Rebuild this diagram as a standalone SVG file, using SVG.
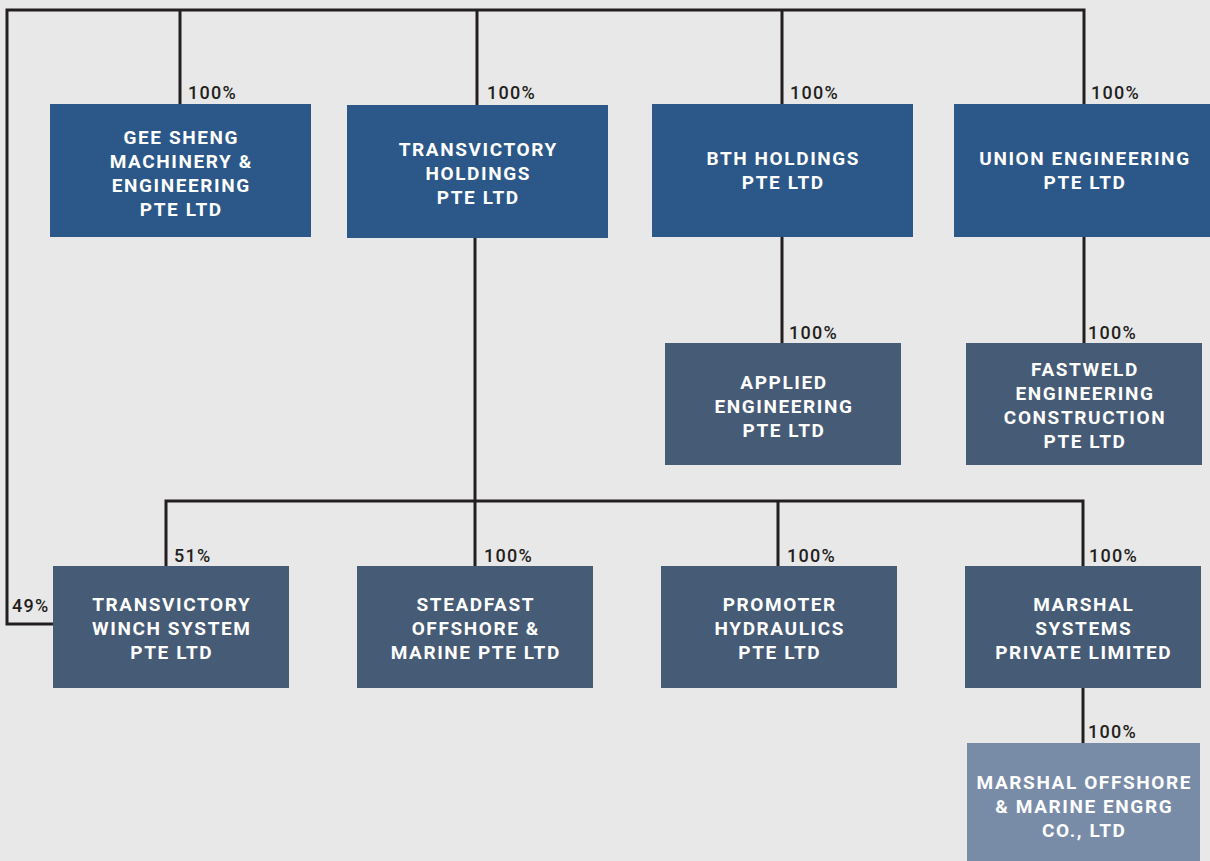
<svg xmlns="http://www.w3.org/2000/svg" width="1210" height="861" viewBox="0 0 1210 861">
<style>
.l{fill:none;stroke:#231f20;stroke-width:3;stroke-linecap:square}
.b1{fill:#2b5888}
.b2{fill:#465b75}
.b3{fill:#788ca8}
.t{font-family:Roboto,"Liberation Sans",sans-serif;font-weight:bold;font-size:19px;fill:#fff;text-anchor:middle;letter-spacing:1.6px}
.p{font-family:Roboto,"Liberation Sans",sans-serif;font-weight:500;font-size:18px;fill:#231f20;letter-spacing:1.3px}
</style>
<rect width="1210" height="861" fill="#e8e8e8"/>
<g id="connectors">
<path class="l" d="M7,10 H1084 M7,10 V624 H53 M180,10 V104 M477,10 V105 M782,10 V104 M1084,10 V104 M475,238 V501 M782,237 V343 M1084,237 V343 M166,566 V501 H1083 V566 M475,501 V566 M778,501 V566 M1083,688 V743"/>
<text class="p" x="188" y="99">100%</text>
<text class="p" x="487" y="99">100%</text>
<text class="p" x="790" y="99">100%</text>
<text class="p" x="1091" y="99">100%</text>
<text class="p" x="789" y="339">100%</text>
<text class="p" x="1088" y="339">100%</text>
<text class="p" x="174" y="562">51%</text>
<text class="p" x="484" y="562">100%</text>
<text class="p" x="787" y="562">100%</text>
<text class="p" x="1089" y="562">100%</text>
<text class="p" x="12" y="612">49%</text>
<text class="p" x="1088" y="738">100%</text>
</g>
<g id="geesheng"><rect class="b1" x="50" y="104" width="261" height="133"/>
<text class="t" x="181.3" y="144">GEE SHENG</text><text class="t" x="181.3" y="168">MACHINERY &amp;</text><text class="t" x="181.3" y="192">ENGINEERING</text><text class="t" x="181.3" y="216">PTE LTD</text></g>
<g id="transvictory"><rect class="b1" x="347" y="105" width="261" height="133"/>
<text class="t" x="478.3" y="156">TRANSVICTORY</text><text class="t" x="478.3" y="180">HOLDINGS</text><text class="t" x="478.3" y="204">PTE LTD</text></g>
<g id="bth"><rect class="b1" x="652" y="104" width="261" height="133"/>
<text class="t" x="783.3" y="165">BTH HOLDINGS</text><text class="t" x="783.3" y="189">PTE LTD</text></g>
<g id="union"><rect class="b1" x="954" y="104" width="256" height="133"/>
<text class="t" x="1085" y="165">UNION ENGINEERING</text><text class="t" x="1085" y="189">PTE LTD</text></g>
<g id="applied"><rect class="b2" x="665" y="343" width="236" height="122"/>
<text class="t" x="784" y="389">APPLIED</text><text class="t" x="784" y="413">ENGINEERING</text><text class="t" x="784" y="437">PTE LTD</text></g>
<g id="fastweld"><rect class="b2" x="966" y="343" width="236" height="122"/>
<text class="t" x="1085" y="376">FASTWELD</text><text class="t" x="1085" y="400">ENGINEERING</text><text class="t" x="1085" y="424">CONSTRUCTION</text><text class="t" x="1085" y="448">PTE LTD</text></g>
<g id="winch"><rect class="b2" x="53" y="566" width="236" height="122"/>
<text class="t" x="171.8" y="611">TRANSVICTORY</text><text class="t" x="171.8" y="635">WINCH SYSTEM</text><text class="t" x="171.8" y="659">PTE LTD</text></g>
<g id="steadfast"><rect class="b2" x="357" y="566" width="236" height="122"/>
<text class="t" x="475.8" y="611">STEADFAST</text><text class="t" x="475.8" y="635">OFFSHORE &amp;</text><text class="t" x="475.8" y="659">MARINE PTE LTD</text></g>
<g id="promoter"><rect class="b2" x="661" y="566" width="236" height="122"/>
<text class="t" x="779.8" y="611">PROMOTER</text><text class="t" x="779.8" y="635">HYDRAULICS</text><text class="t" x="779.8" y="659">PTE LTD</text></g>
<g id="marshal"><rect class="b2" x="965" y="566" width="236" height="122"/>
<text class="t" x="1083.8" y="611">MARSHAL</text><text class="t" x="1083.8" y="635">SYSTEMS</text><text class="t" x="1083.8" y="659">PRIVATE LIMITED</text></g>
<g id="marshaloffshore"><rect class="b3" x="967" y="743" width="233" height="118"/>
<text class="t" x="1084.3" y="789">MARSHAL OFFSHORE</text><text class="t" x="1084.3" y="813">&amp; MARINE ENGRG</text><text class="t" x="1084.3" y="837">CO., LTD</text></g>
</svg>
